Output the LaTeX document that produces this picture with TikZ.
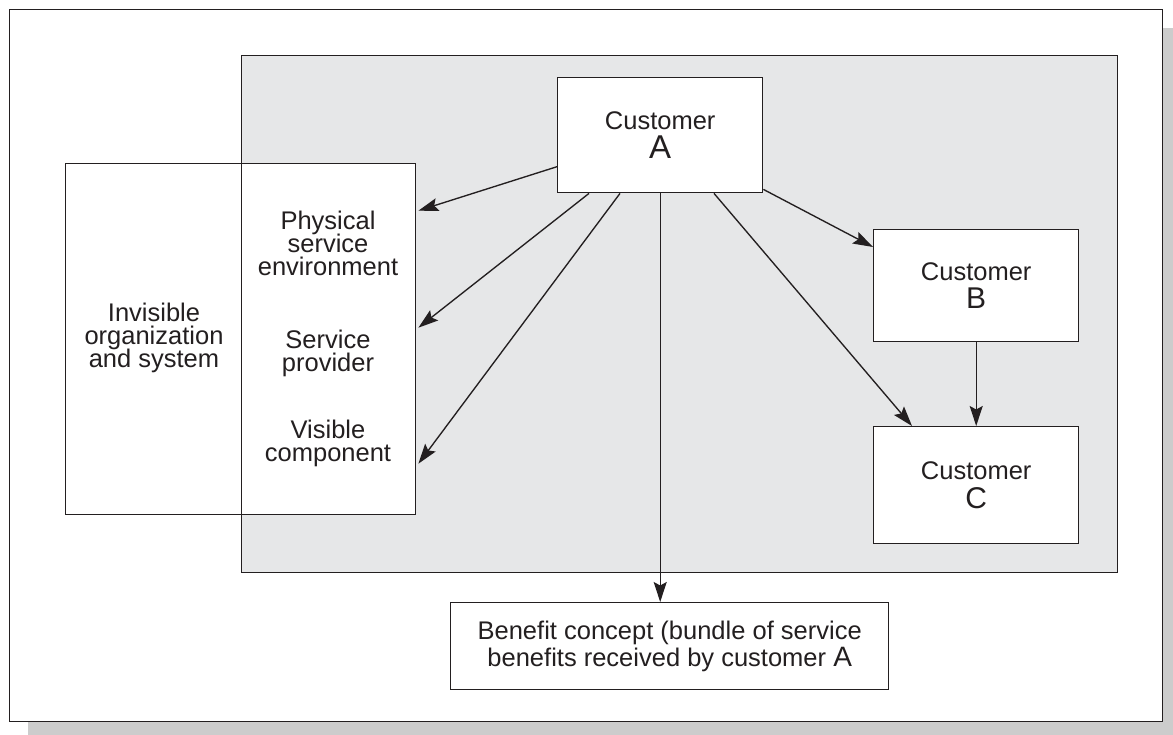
\documentclass[tikz,border=0pt]{standalone}
\usepackage{fontspec}
\setmainfont{Liberation Sans}
\usetikzlibrary{arrows.meta,calc}
\definecolor{inkc}{HTML}{231F20}
\definecolor{panelc}{HTML}{E6E7E8}
\definecolor{shadowc}{HTML}{CCCCCC}
\newcommand{\mainfnt}{\fontsize{25.5}{23}\selectfont\lineskiplimit=-30pt}
\newcommand{\custfnt}{\fontsize{25.5}{28.5}\selectfont\lineskiplimit=-30pt}
\newcommand{\benfnt}{\fontsize{25.5}{27}\selectfont\lineskiplimit=-30pt}
\begin{document}
\begin{tikzpicture}[x=1pt,y=-1pt,
  line/.style={draw=inkc, line width=1.4pt},
  box/.style={line, fill=white, anchor=north west, inner sep=0pt, align=center, text=inkc},
  lbl/.style={align=center, text=inkc, inner sep=0pt, font=\mainfnt},
  arr/.style={draw=inkc, line width=1.35pt, -{Stealth[length=20pt,width=13pt,inset=3.5pt]}},
]
\useasboundingbox (0,0) rectangle (1173,735);
\fill[shadowc] (28,28) rectangle (1173,735);
\node[box, minimum width=1153, minimum height=712] (frame) at (9,9) {};
\fill[panelc] (240.5,55) rectangle (1117,572);
\node[box, minimum width=350, minimum height=351] (L) at (65,163) {};
\node[line, anchor=north west, inner sep=0pt, minimum width=876.5, minimum height=517] (panel) at (240.5,55) {};
\node[lbl] (inv) at (154,338) {Invisible\\organization\\and system};
\node[lbl] (phys) at (328,243) {Physical\\service\\environment};
\node[lbl] (prov) at (328,353) {Service\\provider};
\node[lbl] (vis) at (328,443) {Visible\\component};
\node[box, font=\custfnt, minimum width=205, minimum height=115] (A) at (557,77) {Customer\\{\fontsize{33}{28}\selectfont A}};
\node[box, font=\custfnt, minimum width=205, minimum height=112] (B) at (873,229) {Customer\\{\fontsize{30}{28}\selectfont B}};
\node[box, font=\custfnt, minimum width=205, minimum height=117] (C) at (873,426) {Customer\\{\fontsize{30}{28}\selectfont C}};
\node[box, font=\benfnt, minimum width=438, minimum height=87] (ben) at (450,602) {Benefit concept (bundle of service\\benefits received by customer {\fontsize{28}{27}\selectfont A}};
\draw[arr] ([yshift=-31.5pt]A.west) -- ([yshift=128.5pt,xshift=2pt]L.east);
\draw[arr] ([xshift=32pt]A.south west) -- ([yshift=11.5pt,xshift=2pt]L.east);
\draw[arr] ([xshift=63pt]A.south west) -- ([yshift=-124.5pt,xshift=2pt]L.east);
\draw[arr] (A.south) -- (A.south |- ben.north);
\draw[arr] ([xshift=157pt]A.south west) -- ([xshift=39pt]C.north west);
\draw[arr] ([yshift=4pt]A.south east) -- ([yshift=-18pt]B.north west);
\draw[arr] (B.south) -- (C.north);
\end{tikzpicture}
\end{document}
